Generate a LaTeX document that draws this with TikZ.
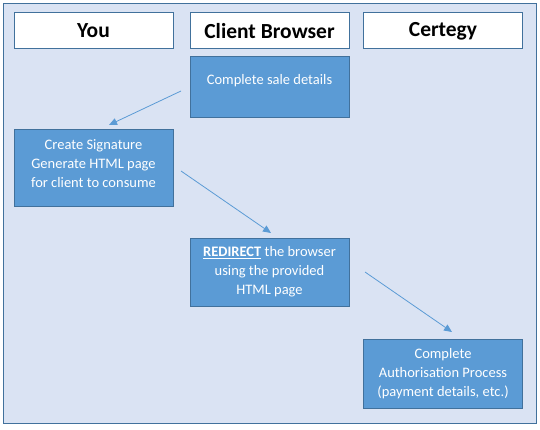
\documentclass[tikz,border=0pt]{standalone}
\usepackage{fontspec}
\setmainfont{Carlito}
\usetikzlibrary{arrows.meta}
\definecolor{bgblue}{HTML}{DAE3F3}
\definecolor{edgeblue}{HTML}{41719C}
\definecolor{boxblue}{HTML}{5B9BD5}
\tikzset{
  header/.style={draw=edgeblue, line width=1pt, fill=white, minimum width=159pt, minimum height=36pt, inner sep=0pt, font=\fontsize{21.5}{24}\selectfont\bfseries},
  stepbox/.style={draw=edgeblue, line width=1pt, fill=boxblue, text=white, minimum width=159pt, inner sep=0pt, align=center, font=\fontsize{14.5}{19}\selectfont},
  flow/.style={draw=boxblue, line width=0.8pt, -{Triangle[length=8pt,width=7pt]}}
}
\begin{document}
\begin{tikzpicture}[x=1pt,y=-1pt]
\useasboundingbox (0,0) rectangle (540,430);
\fill[bgblue, draw=edgeblue, line width=1pt] (3,4) rectangle (536,423);
\node[header] (you) at (93.5,31) {You};
\node[header] (client) at (269.5,31) {Client Browser};
\node[header] (certegy) at (443,31) {Certegy};
\node[stepbox, minimum height=61pt] (sale) at (269.5,87.5) {Complete sale details\\[-2pt]\mbox{}};
\node[stepbox, minimum height=77pt] (sig) at (93.5,168.5) {Create Signature\\Generate HTML page\\for client to consume\\[-9pt]\mbox{}};
\node[stepbox, minimum height=68pt] (redir) at (269.5,272) {\underline{\textbf{REDIRECT}} the browser\\using the provided\\HTML page};
\node[stepbox, minimum height=69pt] (auth) at (443,373.5) {Complete\\Authorisation Process\\(payment details, etc.)};
\coordinate (a1s) at (181,91);
\coordinate (a1e) at (109,125);
\coordinate (a2s) at (181,171);
\coordinate (a2e) at (271,233);
\coordinate (a3s) at (365,272);
\coordinate (a3e) at (452,332);
\draw[flow] (a1s) -- (a1e);
\draw[flow] (a2s) -- (a2e);
\draw[flow] (a3s) -- (a3e);
\end{tikzpicture}
\end{document}
